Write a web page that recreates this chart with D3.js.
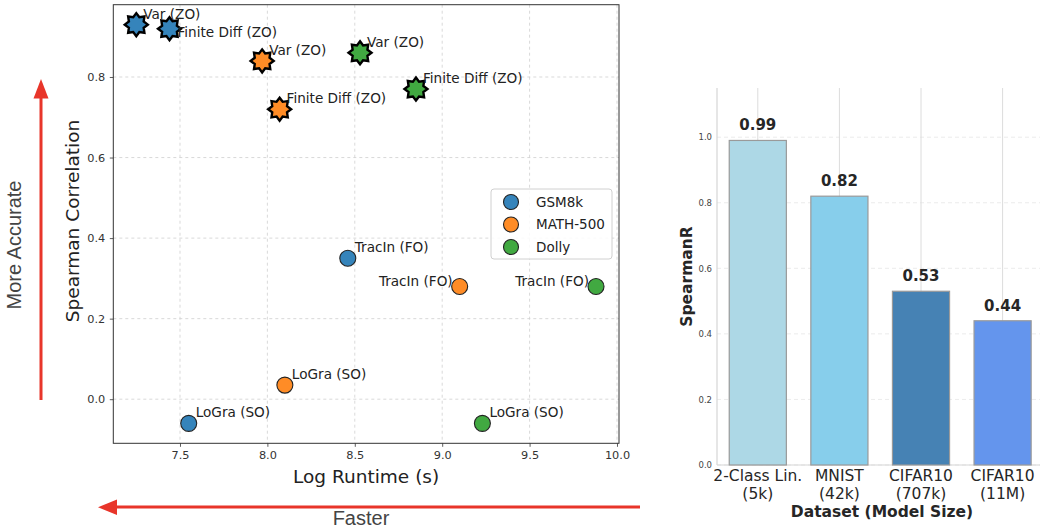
<!DOCTYPE html>
<html>
<head>
<meta charset="utf-8">
<script src="https://cdn.jsdelivr.net/npm/d3@7"></script>
<style>
  html, body { margin: 0; padding: 0; background: #fff; }
  svg { display: block; }
</style>
</head>
<body>
<svg id="fig" width="1040" height="529"></svg>
<script>
// ---- scatter: runtime vs. Spearman correlation per dataset ----
const datasets = ["GSM8k", "MATH-500", "Dolly"];
const methods = ["Var (ZO)", "Finite Diff (ZO)", "TracIn (FO)", "LoGra (SO)"];
const methodOrder = ["ZO", "ZO", "FO", "SO"];
const runtimeGSM8k   = [7.25, 7.44, 8.46, 7.55];
const spearmanGSM8k  = [0.93, 0.92, 0.35, -0.06];
const runtimeMATH    = [7.97, 8.07, 9.10, 8.10];
const spearmanMATH   = [0.84, 0.72, 0.28, 0.035];
const runtimeDolly   = [8.53, 8.85, 9.88, 9.23];
const spearmanDolly  = [0.86, 0.77, 0.28, -0.06];
const scatterXTicks = [7.5, 8.0, 8.5, 9.0, 9.5, 10.0];
const scatterYTicks = [0.0, 0.2, 0.4, 0.6, 0.8];

// ---- bars: SpearmanR by dataset / model size ----
const barDatasets = ["2-Class Lin.", "MNIST", "CIFAR10", "CIFAR10"];
const barModelSizes = ["(5k)", "(42k)", "(707k)", "(11M)"];
const barValues = [0.99, 0.82, 0.53, 0.44];
const barYTicks = [0.0, 0.2, 0.4, 0.6, 0.8, 1.0];

const seriesColors = ["#1f77b4", "#ff7f0e", "#2ca02c"];
const barColors = ["#add8e6", "#87ceeb", "#4682b4", "#6495ed"];

const svg = d3.select("#fig");
const FONT = "'DejaVu Sans', sans-serif";

// ================= left panel =================
const L = { left: 113.3, right: 619, top: 4.7, bottom: 443.3 };
const series = [
  { name: datasets[0], color: seriesColors[0], xs: runtimeGSM8k, ys: spearmanGSM8k },
  { name: datasets[1], color: seriesColors[1], xs: runtimeMATH,  ys: spearmanMATH },
  { name: datasets[2], color: seriesColors[2], xs: runtimeDolly, ys: spearmanDolly }
];
const allX = series.flatMap(s => s.xs), allY = series.flatMap(s => s.ys);
const pad = (ext) => { const r = ext[1] - ext[0]; return [ext[0] - 0.05 * r, ext[1] + 0.05 * r]; };
const x = d3.scaleLinear().domain(pad(d3.extent(allX))).range([L.left, L.right]);
const y = d3.scaleLinear().domain(pad(d3.extent(allY))).range([L.bottom, L.top]);

const gL = svg.append("g");
// grid
gL.append("g").selectAll("line").data(scatterXTicks).join("line")
  .attr("x1", d => x(d)).attr("x2", d => x(d)).attr("y1", L.top).attr("y2", L.bottom)
  .attr("stroke", "#cfcfcf").attr("stroke-width", 0.8).attr("stroke-dasharray", "3,3");
gL.append("g").selectAll("line").data(scatterYTicks).join("line")
  .attr("y1", d => y(d)).attr("y2", d => y(d)).attr("x1", L.left).attr("x2", L.right)
  .attr("stroke", "#cfcfcf").attr("stroke-width", 0.8).attr("stroke-dasharray", "3,3");

// axes
const xAxis = d3.axisBottom(x).tickValues(scatterXTicks).tickFormat(d3.format(".1f")).tickSize(3.5).tickPadding(4);
const yAxis = d3.axisLeft(y).tickValues(scatterYTicks).tickFormat(d3.format(".1f")).tickSize(3.5).tickPadding(4.5);
const gx = gL.append("g").attr("transform", `translate(0,${L.bottom})`).call(xAxis);
const gy = gL.append("g").attr("transform", `translate(${L.left},0)`).call(yAxis);
[gx, gy].forEach(g => {
  g.select(".domain").remove();
  g.selectAll(".tick line").attr("stroke", "#333").attr("stroke-width", 0.8);
  g.selectAll(".tick text").attr("fill", "#333").style("font", `11.3px ${FONT}`);
});
gL.append("rect").attr("x", L.left).attr("y", L.top)
  .attr("width", L.right - L.left).attr("height", L.bottom - L.top)
  .attr("fill", "none").attr("stroke", "#333").attr("stroke-width", 1);

gL.append("text").attr("x", (L.left + L.right) / 2).attr("y", 483)
  .attr("text-anchor", "middle").attr("fill", "#222").style("font", `18.5px ${FONT}`)
  .text("Log Runtime (s)");
gL.append("text").attr("transform", `translate(79,${(L.top + L.bottom) / 2 - 3}) rotate(-90)`)
  .attr("text-anchor", "middle").attr("fill", "#222").style("font", `18.5px ${FONT}`)
  .text("Spearman Correlation");

// 8-point star used for zeroth-order methods
function starPath(R, r, n) {
  const pts = [];
  for (let i = 0; i < 2 * n; i++) {
    const a = -Math.PI / 2 + i * Math.PI / n;
    const rad = i % 2 === 0 ? R : r;
    pts.push([rad * Math.cos(a), rad * Math.sin(a)]);
  }
  return d3.line()(pts) + "Z";
}
const star = starPath(11.5, 8, 8);

const points = series.flatMap((s, si) => s.xs.map((v, i) => ({
  si, i, color: s.color, rx: v, ry: s.ys[i], method: methods[i], order: methodOrder[i]
})));

const gp = gL.append("g");
points.forEach(p => {
  const px = x(p.rx), py = y(p.ry);
  if (p.order === "ZO") {
    gp.append("path").attr("d", star).attr("transform", `translate(${px},${py})`)
      .attr("fill", p.color).attr("fill-opacity", 0.9)
      .attr("stroke", "#000").attr("stroke-width", 2.4).attr("stroke-linejoin", "miter");
  } else {
    gp.append("circle").attr("cx", px).attr("cy", py).attr("r", 8)
      .attr("fill", p.color).attr("fill-opacity", 0.9)
      .attr("stroke", "#222").attr("stroke-width", 1.1);
  }
});

// point annotations
points.forEach(p => {
  const px = x(p.rx), py = y(p.ry);
  let dx = 7, dy = -6, anchor = "start";
  if (p.si === 0 && p.i === 1) { dx = 8; dy = 8; }          // keep clear of neighbouring star
  if (p.order === "FO" && p.si > 0) { dx = -7; dy = 0; anchor = "end"; }
  gL.append("text").attr("x", px + dx).attr("y", py + dy)
    .attr("text-anchor", anchor).attr("fill", "#222").style("font", `13.6px ${FONT}`)
    .text(p.method);
});

// legend
const lg = gL.append("g");
lg.append("rect").attr("x", 491).attr("y", 189).attr("width", 121).attr("height", 70)
  .attr("rx", 3).attr("fill", "#fff").attr("fill-opacity", 0.85)
  .attr("stroke", "#d0d0d0").attr("stroke-width", 1);
series.forEach((s, k) => {
  const cy = 202 + k * 22.5;
  lg.append("circle").attr("cx", 511).attr("cy", cy).attr("r", 7.5)
    .attr("fill", s.color).attr("fill-opacity", 0.9).attr("stroke", "#222").attr("stroke-width", 1.1);
  lg.append("text").attr("x", 536).attr("y", cy + 4.8).attr("fill", "#222")
    .style("font", `13.5px ${FONT}`).text(s.name);
});

// direction arrows
const RED = "#e8352a";
svg.append("line").attr("x1", 41).attr("x2", 41).attr("y1", 400).attr("y2", 96)
  .attr("stroke", RED).attr("stroke-width", 3);
svg.append("path").attr("d", "M41,79 L33.5,98.5 L48.5,98.5 Z").attr("fill", RED);
svg.append("line").attr("x1", 640).attr("x2", 114).attr("y1", 507).attr("y2", 507)
  .attr("stroke", RED).attr("stroke-width", 3);
svg.append("path").attr("d", "M98,507.3 L117,499.5 L117,515 Z").attr("fill", RED);

svg.append("text").attr("transform", "translate(21,245) rotate(-90)")
  .attr("text-anchor", "middle").attr("fill", "#444")
  .style("font", "20px 'Liberation Sans', Arial, sans-serif").text("More Accurate");
svg.append("text").attr("x", 361).attr("y", 525)
  .attr("text-anchor", "middle").attr("fill", "#444")
  .style("font", "20px 'Liberation Sans', Arial, sans-serif").text("Faster");

// ================= right panel =================
const R = { left: 717, top: 88, bottom: 465 };
const barIdx = d3.range(barValues.length);
const xb = d3.scaleBand().domain(barIdx).range([R.left, R.left + 4 * 81.6])
  .paddingInner(0.3).paddingOuter(0.15);
const yb = d3.scaleLinear().domain([0, 1.15]).range([R.bottom, R.top]);
const gR = svg.append("g");

// horizontal dashed grid
gR.append("g").selectAll("line").data(barYTicks).join("line")
  .attr("x1", R.left).attr("x2", 1040).attr("y1", d => yb(d)).attr("y2", d => yb(d))
  .attr("stroke", "#e6e6e6").attr("stroke-width", 0.8).attr("stroke-dasharray", "4,3");
// vertical grid through bar centres
gR.append("g").selectAll("line").data(barIdx).join("line")
  .attr("x1", d => xb(d) + xb.bandwidth() / 2).attr("x2", d => xb(d) + xb.bandwidth() / 2)
  .attr("y1", R.top).attr("y2", R.bottom)
  .attr("stroke", "#dcdcdc").attr("stroke-width", 1);
// spines
gR.append("line").attr("x1", R.left).attr("x2", R.left).attr("y1", R.top).attr("y2", R.bottom)
  .attr("stroke", "#d6d6d6").attr("stroke-width", 1.2);
gR.append("line").attr("x1", R.left).attr("x2", 1040).attr("y1", R.bottom).attr("y2", R.bottom)
  .attr("stroke", "#d6d6d6").attr("stroke-width", 1.2);

// bars
gR.append("g").selectAll("rect").data(barIdx).join("rect")
  .attr("x", d => xb(d)).attr("width", xb.bandwidth())
  .attr("y", d => yb(barValues[d])).attr("height", d => yb(0) - yb(barValues[d]))
  .attr("fill", d => barColors[d]).attr("stroke", "#9a9a9a").attr("stroke-width", 1.2);

// value labels
gR.append("g").selectAll("text").data(barIdx).join("text")
  .attr("x", d => xb(d) + xb.bandwidth() / 2).attr("y", d => yb(barValues[d]) - 10)
  .attr("text-anchor", "middle").attr("fill", "#262626")
  .style("font", `bold 15px ${FONT}`).text(d => barValues[d].toFixed(2));

// y ticks
const yAxisR = d3.axisLeft(yb).tickValues(barYTicks).tickFormat(d3.format(".1f")).tickSize(0).tickPadding(5);
const gyR = gR.append("g").attr("transform", `translate(${R.left},0)`).call(yAxisR);
gyR.select(".domain").remove();
gyR.selectAll(".tick text").attr("fill", "#444").style("font", `8.5px ${FONT}`);

// x tick labels (two lines)
barIdx.forEach(d => {
  const cx = xb(d) + xb.bandwidth() / 2;
  const t = gR.append("text").attr("text-anchor", "middle").attr("fill", "#262626")
    .style("font", `15.5px ${FONT}`);
  t.append("tspan").attr("x", cx).attr("y", 481).text(barDatasets[d]);
  t.append("tspan").attr("x", cx).attr("y", 499).text(barModelSizes[d]);
});

gR.append("text").attr("x", 882).attr("y", 517).attr("text-anchor", "middle")
  .attr("fill", "#262626").style("font", `bold 15.5px ${FONT}`).text("Dataset (Model Size)");
gR.append("text").attr("transform", `translate(692,${(R.top + R.bottom) / 2}) rotate(-90)`)
  .attr("text-anchor", "middle").attr("fill", "#262626")
  .style("font", `bold 15.5px ${FONT}`).text("SpearmanR");
</script>
</body>
</html>
